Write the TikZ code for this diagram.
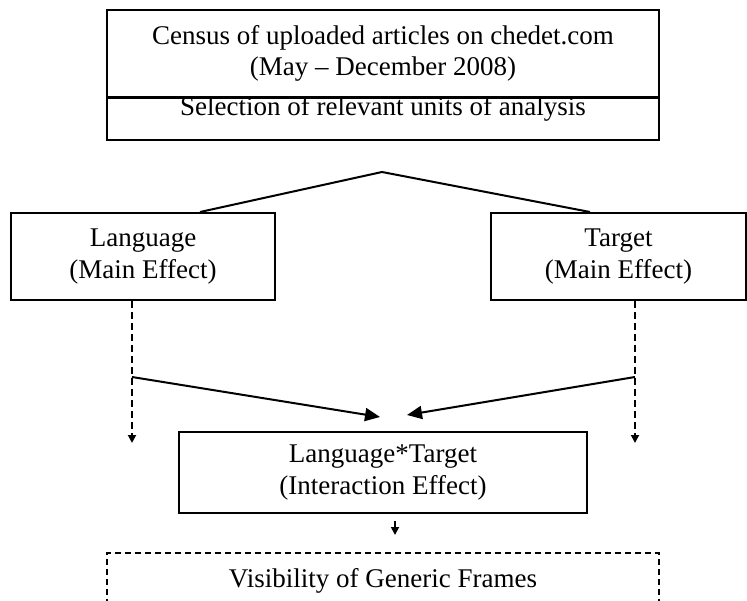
\documentclass[tikz,border=0pt]{standalone}
\usepackage{fontspec}
\setmainfont{Liberation Serif}
\usetikzlibrary{arrows.meta}

\tikzset{
  box/.style={draw, line width=2pt, align=center, inner sep=0pt,
    font=\fontsize{27}{31}\selectfont},
  effbox/.style={box, font=\fontsize{27}{32}\selectfont,
    execute at begin node=\rule{0pt}{25pt}},
  dashbox/.style={box, line width=1.6pt, dash pattern=on 6pt off 4pt},
  solidarr/.style={line width=2pt, -{Triangle[length=15pt,width=13pt]}},
  dasharr/.style={line width=1.8pt, dash pattern=on 7pt off 4pt,
    -{Triangle[length=8pt,width=8pt]}},
  smallarr/.style={line width=1.8pt, -{Triangle[length=8pt,width=8pt]}}
}

\begin{document}
\begin{tikzpicture}[x=1pt, y=-1pt]
                    \useasboundingbox[fill=white] (0,0) rectangle (747,601);
                    % boxes
                    \node[box, minimum width=552pt, minimum height=87pt] (census) at (383,53.5)
                        {Census of uploaded articles on chedet.com\\(May -- December 2008)};
                    \node[box, minimum width=552pt, text height=18pt, text depth=24pt, anchor=north] (select) at (383,97)
                        {Selection of relevant units of analysis};
                    \node[effbox, minimum width=264pt, minimum height=87pt] (lang) at (143,256.5)
                        {Language\\(Main Effect)};
                    \node[effbox, minimum width=255pt, minimum height=87pt] (tgt) at (618.5,256.5)
                        {Target\\(Main Effect)};
                    \node[effbox, minimum width=408pt, minimum height=81pt] (inter) at (383,472.5)
                        {Language*Target\\(Interaction Effect)};
                    \node[dashbox, minimum width=552pt, text height=35pt, text depth=45pt, anchor=north] (vis) at (383,552)
                        {Visibility of Generic Frames};
                    % connector points
                    \coordinate (apex) at (382,172);
                    \coordinate (ltip) at (132,443);
                    \coordinate (rtip) at (635,443);
                    \coordinate (ljoin) at (132,377);
                    \coordinate (rjoin) at (635,377);
                    \coordinate (lhead) at (380,417);
                    \coordinate (rhead) at (407,415);
                    \coordinate (vtail) at (395,521);
                    \coordinate (vtip) at (395,535);
                    % connectors
                    \draw[line width=2pt] ([xshift=57pt]lang.north) -- (apex) -- ([xshift=-28.5pt]tgt.north);
                    \draw[dasharr] (lang.south -| ltip) -- (ltip);
                    \draw[dasharr] (tgt.south -| rtip) -- (rtip);
                    \draw[solidarr] (ljoin) -- (lhead);
                    \draw[solidarr] (rjoin) -- (rhead);
                    \draw[smallarr] (vtail) -- (vtip);
                \end{tikzpicture}
\end{document}
